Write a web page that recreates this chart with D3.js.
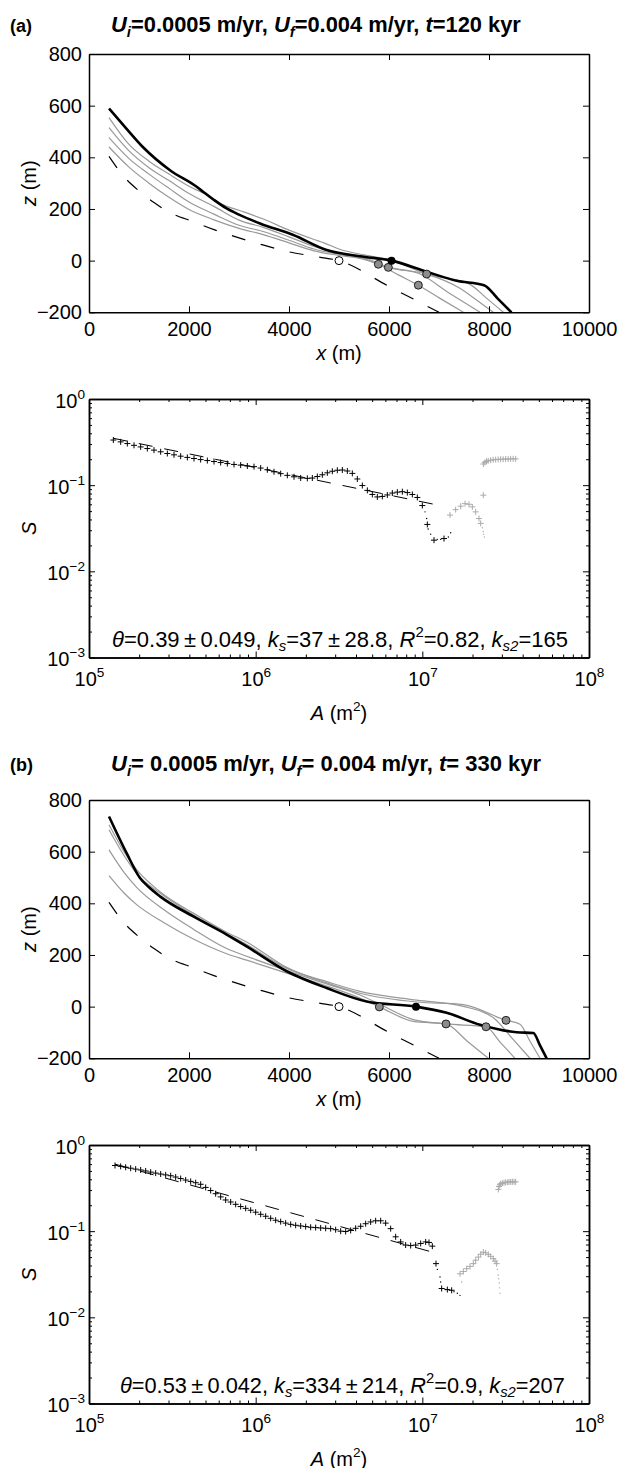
<!DOCTYPE html>
<html>
<head>
<meta charset="utf-8">
<script src="https://cdn.jsdelivr.net/npm/d3@7"></script>
<style>
    body { margin: 0; background: #fff; }
    svg { font-family: "Liberation Sans", Arial, Helvetica, sans-serif; }
</style>
</head>
<body>
<script>
(function () {

    //---- data ----
    var xTicks = [0, 2000, 4000, 6000, 8000, 10000];
    var zTicks = [-200, 0, 200, 400, 600, 800];
    var areaTicks = [1e5, 1e6, 1e7, 1e8];
    var slopeTicks = [1e-3, 1e-2, 1e-1, 1];

    //long profiles [x (m), z (m)]
    var profInitial = [[400,404],[700,325],[1000,270],[1300,225],[1600,188],[2100,150],[2500,120],[3000,88],[3400,65],[4000,34],[4600,14],[5000,0],[6000,-100],[7000,-200]];

    var finalA = [[400,589],[700,522],[1087,438],[1620,350],[2153,286],[2287,266],[2500,235],[2753,202],[3000,178],[3420,144],[4087,99],[4753,41],[5420,17],[6050,0],[6753,-43],[7353,-78],[7900,-95],[8180,-148],[8450,-200]];
    var greyA1 = [[400,440],[800,362],[1200,300],[1600,245],[2000,198],[2500,158],[3000,125],[3500,100],[4000,69],[4500,38],[5000,20],[5500,5],[5787,-14],[6187,-55],[6587,-95],[7037,-148],[7487,-200]];
    var greyA2 = [[400,476],[800,395],[1200,335],[1600,280],[2000,227],[2500,180],[3000,137],[3500,112],[4000,79],[4500,45],[5000,25],[5500,8],[5787,-14],[6000,-26],[6600,-50],[7200,-125],[7820,-200]];
    var greyA3 = [[400,515],[800,425],[1200,360],[1600,310],[2000,260],[2500,210],[3000,157],[3500,128],[4000,92],[4500,55],[5000,30],[5500,12],[5987,-26],[6753,-52],[7400,-105],[7750,-152],[8087,-200]];
    var greyA4 = [[400,554],[800,450],[1200,385],[1600,335],[2000,288],[2400,250],[2700,215],[3000,195],[3500,160],[4000,118],[4500,82],[4700,69],[5000,45],[5500,22],[6000,4],[6753,-52],[7600,-90],[7950,-145],[8287,-200]];
    var knickGreyA = [[5787,-14],[5987,-26],[6753,-52],[6587,-95]];
    var knickFinalA = [6050, 0];

    var finalB = [[400,736],[753,594],[1020,498],[1200,462],[1420,427],[2087,349],[2753,279],[3153,233],[3953,137],[4753,72],[5553,20],[6540,0],[7153,-24],[7820,-70],[8553,-99],[8887,-102],[9020,-150],[9153,-200]];
    var greyB1 = [[400,507],[700,440],[953,395],[1500,325],[2087,262],[2753,205],[3153,180],[3953,130],[4753,80],[5420,33],[5807,-1],[6487,-57],[7140,-67],[7560,-133],[7987,-200]];
    var greyB2 = [[400,607],[700,520],[953,462],[1500,375],[2087,300],[2753,225],[3153,195],[3953,140],[4753,88],[5420,45],[5807,10],[6487,-50],[7140,-67],[7940,-78],[8230,-139],[8520,-200]];
    var greyB3 = [[400,685],[700,585],[953,515],[1420,440],[2087,355],[2753,282],[3153,240],[3953,148],[4753,97],[5420,59],[6553,25],[7487,1],[8100,-45],[8460,-122],[8820,-200]];
    var greyB4 = [[400,704],[700,600],[953,530],[1420,445],[2087,362],[2753,288],[3153,250],[3953,152],[4753,92],[5420,52],[6553,18],[7487,8],[8340,-53],[8620,-68],[8820,-134],[9020,-200]];
    var knickGreyB = [[5807,-1],[7140,-67],[7940,-78],[8340,-53]];
    var knickFinalB = [6540, 0];
    var knickInitial = [5000, 0];

    //slope-area data [log10 A (m2), S]
    var plusA = [[5.146,.334],[5.19,.318],[5.23,.304],[5.27,.290],[5.31,.278],[5.35,.266],[5.39,.255],[5.43,.244],[5.47,.233],[5.51,.225],[5.55,.217],[5.59,.210],[5.63,.204],[5.67,.198],[5.71,.193],[5.75,.188],[5.79,.183],[5.83,.178],[5.87,.174],[5.91,.171],[5.95,.167],[5.99,.164],[6.03,.158],[6.07,.151],[6.11,.143],[6.15,.136],[6.19,.130],[6.23,.125],[6.27,.121],[6.31,.120],[6.34,.121],[6.37,.126],[6.40,.132],[6.43,.139],[6.46,.145],[6.49,.149],[6.52,.150],[6.55,.146],[6.58,.137],[6.61,.118],[6.64,.099],[6.67,.087],[6.70,.078],[6.73,.073],[6.76,.074],[6.79,.077],[6.82,.081],[6.85,.083],[6.88,.084],[6.91,.082],[6.94,.078],[6.97,.072],[7.00,.058],[7.03,.035],[7.07,.023],[7.13,.024]];
    var dotsA = [[7.016,.049],[7.026,.041],[7.035,.031],[7.05,.027],[7.09,.0235],[7.11,.0235],[7.156,.025],[7.17,.028]];
    var greyPlusA = [[7.166,.045],[7.20,.052],[7.23,.057],[7.256,.061],[7.28,.060],[7.30,.056],[7.32,.049],[7.34,.041],[7.35,.036],[7.366,.0765],
        [7.366,.176],[7.375,.184],[7.385,.189],[7.395,.192],[7.41,.195],[7.425,.197],[7.44,.198],[7.455,.199],[7.47,.200],[7.485,.200],[7.50,.201],[7.515,.201],[7.53,.202],[7.545,.202],[7.56,.202]];
    var greyDotsA = [[7.36,.032],[7.365,.029],[7.368,.027],[7.372,.025]];
    var fitA = [[5.146,.35],[7.126,.057]];

    var plusB = [[5.156,.578],[5.19,.565],[5.22,.552],[5.25,.538],[5.28,.525],[5.31,.513],[5.34,.500],[5.37,.485],[5.40,.472],[5.43,.460],[5.46,.450],[5.49,.440],[5.52,.425],[5.55,.408],[5.58,.392],[5.61,.378],[5.64,.365],[5.67,.350],[5.70,.322],[5.73,.296],[5.76,.272],[5.79,.250],[5.82,.230],[5.85,.218],[5.88,.205],[5.91,.193],[5.94,.184],[5.97,.175],[6.00,.166],[6.03,.157],[6.06,.149],[6.09,.141],[6.12,.134],[6.15,.129],[6.18,.124],[6.21,.120],[6.24,.117],[6.27,.115],[6.30,.113],[6.33,.111],[6.36,.110],[6.39,.109],[6.42,.108],[6.45,.107],[6.48,.104],[6.51,.100],[6.54,.099],[6.57,.102],[6.60,.108],[6.63,.114],[6.66,.122],[6.69,.128],[6.72,.132],[6.75,.132],[6.78,.124],[6.81,.107],[6.84,.086],[6.87,.075],[6.90,.069],[6.93,.068],[6.96,.069],[6.99,.072],[7.02,.075],[7.04,.074],[7.06,.067],[7.082,.042],[7.116,.0216],[7.15,.021],[7.176,.0206]];
    var dotsB = [[7.09,.036],[7.106,.0294],[7.11,.0257],[7.14,.021],[7.19,.0198],[7.21,.019],[7.226,.018]];
    var greyPlusB = [[7.226,.032],[7.246,.034],[7.266,.0367],[7.286,.039],[7.306,.042],[7.32,.046],[7.336,.050],[7.35,.054],[7.366,.057],[7.38,.056],[7.396,.0538],[7.41,.051],[7.426,.048],[7.436,.045],[7.446,.042],
        [7.456,.305],[7.46,.33],[7.465,.345],[7.47,.355],[7.48,.36],[7.49,.365],[7.50,.368],[7.51,.37],[7.52,.372],[7.53,.373],[7.54,.374],[7.55,.374],[7.56,.373]];
    var greyDotsB = [[7.236,.0257],[7.45,.036],[7.455,.031],[7.458,.028],[7.461,.025],[7.463,.022],[7.466,.019]];
    var fitB = [[5.156,.60],[7.106,.054]];

    //texts
    var titleA = [["U","i"],["i","ib"],["=0.0005 m/yr, "],["U","i"],["f","ib"],["=0.004 m/yr, "],["t","i"],["=120 kyr"]];
    var titleB = [["U","i"],["i","ib"],["= 0.0005 m/yr, "],["U","i"],["f","ib"],["= 0.004 m/yr, "],["t","i"],["= 330 kyr"]];
    var statsA = [["\u03b8","i"],["=0.39\u2009\u00b1\u20090.049, "],["k","i"],["s","ib"],["=37\u2009\u00b1\u200928.8, "],["R","i"],["2","p"],["=0.82, "],["k","i"],["s2","ib"],["=165"]];
    var statsB = [["\u03b8","i"],["=0.53\u2009\u00b1\u20090.042, "],["k","i"],["s","ib"],["=334\u2009\u00b1\u2009214, "],["R","i"],["2","p"],["=0.9, "],["k","i"],["s2","ib"],["=207"]];

    //---- page ----
    var svg = d3.select("body").append("svg")
        .attr("width", 617)
        .attr("height", 1468);

    var left = 89, right = 589;

    //write text made of plain / italic / sub / sup pieces
    function richText(sel, parts, fs) {
        sel.selectAll("tspan").remove();
        sel.attr("font-size", fs);
        var shift = 0;
        parts.forEach(function (p) {
            var st = p[1] || "";
            var want = st.indexOf("b") >= 0 ? 0.22 * fs : (st.indexOf("p") >= 0 ? -0.45 * fs : 0);
            var t = sel.append("tspan").text(p[0]).attr("dy", want - shift);
            shift = want;
            if (st.indexOf("i") >= 0) t.attr("font-style", "italic");
            if (want !== 0) t.attr("font-size", 0.68 * fs);
        });
    }

    //same, then scale font so text spans the width seen in the figure
    function fitText(sel, parts, fs, width) {
        richText(sel, parts, fs);
        var w = sel.node().getComputedTextLength();
        richText(sel, parts, fs * width / w);
    }

    function styleAxis(g) {
        g.attr("font-family", null).attr("font-size", null);
        g.select(".domain").attr("stroke", "#000").attr("stroke-width", 1.5);
        g.selectAll(".tick line").attr("stroke", "#000").attr("stroke-width", 1);
        g.selectAll(".tick text").attr("font-size", 20).attr("fill", "#000");
    }

    function drawHeader(y, tag, title, titleWidth) {
        svg.append("text")
            .attr("x", 10).attr("y", y)
            .attr("font-size", 18).attr("font-weight", "bold")
            .text(tag);
        var t = svg.append("text")
            .attr("x", 111).attr("y", y)
            .attr("font-weight", "bold");
        fitText(t, title, 18, titleWidth);
    }

    //profile panel: z against x
    function drawProfile(top, greys, finalProf, knickGrey, knickFinal) {
        var bottom = top + 258.3;
        var x = d3.scaleLinear().domain([0, 10000]).range([left, right]);
        var y = d3.scaleLinear().domain([-200, 800]).range([bottom, top]);
        var g = svg.append("g");

        var line = d3.line()
            .x(function (d) { return x(d[0]); })
            .y(function (d) { return y(d[1]); })
            .curve(d3.curveMonotoneX);

        g.selectAll(".greyProf")
            .data(greys)
            .enter()
            .append("path")
            .attr("class", "greyProf")
            .attr("d", line)
            .attr("fill", "none")
            .attr("stroke", "#999")
            .attr("stroke-width", 1.2);

        g.append("path")
            .datum(profInitial)
            .attr("d", line)
            .attr("fill", "none")
            .attr("stroke", "#000")
            .attr("stroke-width", 1.2)
            .attr("stroke-dasharray", "14,16");

        g.append("path")
            .datum(finalProf)
            .attr("d", line)
            .attr("fill", "none")
            .attr("stroke", "#000")
            .attr("stroke-width", 2.6);

        g.append("circle")
            .attr("cx", x(knickInitial[0])).attr("cy", y(knickInitial[1])).attr("r", 4)
            .attr("fill", "#fff").attr("stroke", "#000").attr("stroke-width", 1);

        g.selectAll(".knick")
            .data(knickGrey)
            .enter()
            .append("circle")
            .attr("class", "knick")
            .attr("cx", function (d) { return x(d[0]); })
            .attr("cy", function (d) { return y(d[1]); })
            .attr("r", 4)
            .attr("fill", "#8c8c8c")
            .attr("stroke", "#000")
            .attr("stroke-width", 0.8);

        g.append("circle")
            .attr("cx", x(knickFinal[0])).attr("cy", y(knickFinal[1])).attr("r", 4)
            .attr("fill", "#000");

        //box with inward ticks
        g.append("g").attr("transform", "translate(0," + bottom + ")")
            .call(d3.axisBottom(x).tickValues(xTicks).tickSizeInner(-6).tickSizeOuter(0).tickPadding(10)
                .tickFormat(d3.format("d")))
            .call(styleAxis);
        g.append("g").attr("transform", "translate(0," + top + ")")
            .call(d3.axisTop(x).tickValues(xTicks).tickSizeInner(-6).tickSizeOuter(0).tickFormat(""))
            .call(styleAxis);
        g.append("g").attr("transform", "translate(" + left + ",0)")
            .call(d3.axisLeft(y).tickValues(zTicks).tickSizeInner(-6).tickSizeOuter(0).tickPadding(7)
                .tickFormat(function (d) { return d < 0 ? "\u2212" + (-d) : d; }))
            .call(styleAxis);
        g.append("g").attr("transform", "translate(" + right + ",0)")
            .call(d3.axisRight(y).tickValues(zTicks).tickSizeInner(-6).tickSizeOuter(0).tickFormat(""))
            .call(styleAxis);

        var xl = svg.append("text")
            .attr("x", (left + right) / 2).attr("y", bottom + 48)
            .attr("text-anchor", "middle");
        richText(xl, [["x", "i"], [" (m)"]], 20);

        var yl = svg.append("text")
            .attr("transform", "translate(36," + (top + bottom) / 2 + ") rotate(-90)")
            .attr("text-anchor", "middle");
        richText(yl, [["z", "i"], [" (m)"]], 20);
    }

    function minorTicks(lo, hi) {
        var out = [];
        for (var k = lo; k < hi; k++) {
            for (var m = 2; m <= 9; m++) out.push(m * Math.pow(10, k));
        }
        return out;
    }

    //replace tick text with 10 and a raised exponent, at a fixed baseline
    function expLabels(g, baseY) {
        g.selectAll(".tick text").each(function (d) {
            var e = Math.round(Math.log10(d));
            var t = d3.select(this).text(null).attr("dy", null).attr("y", baseY);
            richText(t, [["10"], [e < 0 ? "\u2212" + (-e) : String(e), "p"]], 20);
        });
    }

    //slope-area panel, log-log
    function drawSlope(top, plus, dots, greyPlus, greyDots, fit, stats, statsX, statsW) {
        var bottom = top + 258.5;
        var x = d3.scaleLog().domain([1e5, 1e8]).range([left, right]);
        var y = d3.scaleLog().domain([1e-3, 1]).range([bottom, top]);
        var g = svg.append("g");
        var px = function (d) { return x(Math.pow(10, d[0])); };
        var py = function (d) { return y(d[1]); };
        var cross = "M-3,0H3M0,-3V3";

        g.selectAll(".gdot").data(greyDots).enter().append("circle")
            .attr("cx", px).attr("cy", py).attr("r", 0.7).attr("fill", "#aaa");
        g.selectAll(".gplus").data(greyPlus).enter().append("path")
            .attr("transform", function (d) { return "translate(" + px(d) + "," + py(d) + ")"; })
            .attr("d", cross).attr("stroke", "#aaa").attr("stroke-width", 1);
        g.selectAll(".bdot").data(dots).enter().append("circle")
            .attr("cx", px).attr("cy", py).attr("r", 0.7).attr("fill", "#000");
        g.selectAll(".bplus").data(plus).enter().append("path")
            .attr("transform", function (d) { return "translate(" + px(d) + "," + py(d) + ")"; })
            .attr("d", cross).attr("stroke", "#000").attr("stroke-width", 1);

        g.append("path")
            .datum(fit)
            .attr("d", d3.line().x(px).y(py))
            .attr("fill", "none")
            .attr("stroke", "#000")
            .attr("stroke-width", 1)
            .attr("stroke-dasharray", "14,12");

        var minX = minorTicks(5, 8), minY = minorTicks(-3, 0);

        //bottom / top
        g.append("g").attr("transform", "translate(0," + bottom + ")")
            .call(d3.axisBottom(x).tickValues(minX).tickSizeInner(-3).tickSizeOuter(0).tickFormat(""))
            .call(styleAxis);
        g.append("g").attr("transform", "translate(0," + bottom + ")")
            .call(d3.axisBottom(x).tickValues(areaTicks).tickSizeInner(-6).tickSizeOuter(0))
            .call(styleAxis)
            .call(expLabels, 28);
        g.append("g").attr("transform", "translate(0," + top + ")")
            .call(d3.axisTop(x).tickValues(minX).tickSizeInner(-3).tickSizeOuter(0).tickFormat(""))
            .call(styleAxis);
        g.append("g").attr("transform", "translate(0," + top + ")")
            .call(d3.axisTop(x).tickValues(areaTicks).tickSizeInner(-6).tickSizeOuter(0).tickFormat(""))
            .call(styleAxis);

        //left / right
        g.append("g").attr("transform", "translate(" + left + ",0)")
            .call(d3.axisLeft(y).tickValues(minY).tickSizeInner(-3).tickSizeOuter(0).tickFormat(""))
            .call(styleAxis);
        g.append("g").attr("transform", "translate(" + left + ",0)")
            .call(d3.axisLeft(y).tickValues(slopeTicks).tickSizeInner(-6).tickSizeOuter(0).tickPadding(4))
            .call(styleAxis)
            .call(expLabels, 8);
        g.append("g").attr("transform", "translate(" + right + ",0)")
            .call(d3.axisRight(y).tickValues(minY).tickSizeInner(-3).tickSizeOuter(0).tickFormat(""))
            .call(styleAxis);
        g.append("g").attr("transform", "translate(" + right + ",0)")
            .call(d3.axisRight(y).tickValues(slopeTicks).tickSizeInner(-6).tickSizeOuter(0).tickFormat(""))
            .call(styleAxis);

        var st = svg.append("text").attr("x", statsX).attr("y", bottom - 11);
        fitText(st, stats, 18, statsW);

        var xl = svg.append("text")
            .attr("x", (left + right) / 2).attr("y", bottom + 62)
            .attr("text-anchor", "middle");
        richText(xl, [["A", "i"], [" (m"], ["2", "p"], [")"]], 20);

        var yl = svg.append("text")
            .attr("transform", "translate(36," + (top + bottom) / 2 + ") rotate(-90)")
            .attr("text-anchor", "middle");
        richText(yl, [["S", "i"]], 20);
    }

    //panel (a)
    drawHeader(32, "(a)", titleA, 410);
    drawProfile(54, [greyA1, greyA2, greyA3, greyA4], finalA, knickGreyA, knickFinalA);
    drawSlope(399, plusA, dotsA, greyPlusA, greyDotsA, fitA, statsA, 112, 456);

    //panel (b)
    drawHeader(771, "(b)", titleB, 430);
    drawProfile(800, [greyB1, greyB2, greyB3, greyB4], finalB, knickGreyB, knickFinalB);
    drawSlope(1145, plusB, dotsB, greyPlusB, greyDotsB, fitB, statsB, 120, 445);

})();
</script>
</body>
</html>
